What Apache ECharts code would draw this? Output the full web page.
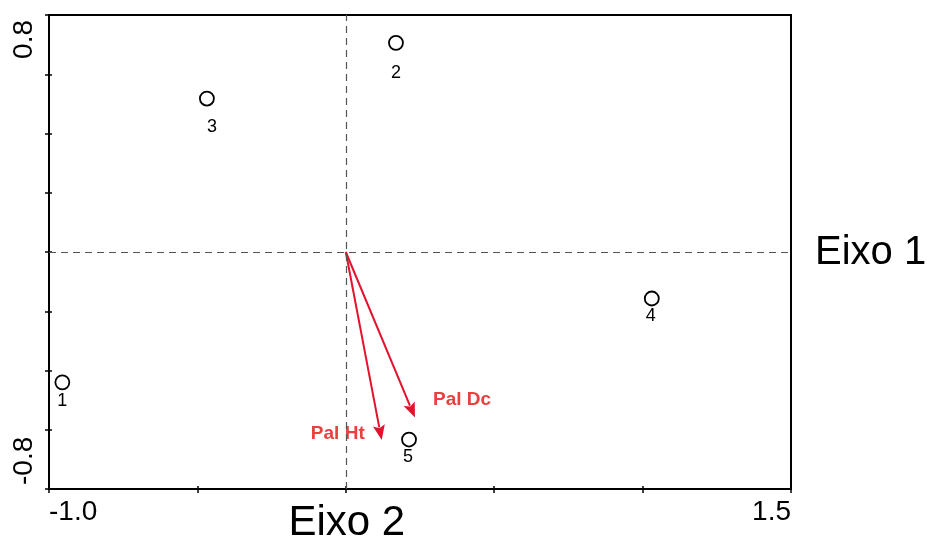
<!DOCTYPE html>
<html>
<head>
<meta charset="utf-8">
<script src="https://cdn.jsdelivr.net/npm/echarts@6/dist/echarts.min.js"></script>
<style>
  html, body { margin: 0; padding: 0; background: #fff; }
  #chart { width: 930px; height: 543px; }
</style>
</head>
<body>
<div id="chart"></div>
<script>
// samples (circles)
const sampleNames = ["1", "2", "3", "4", "5"];
const sampleX = [-0.955, 0.169, -0.468, 1.031, 0.213];
const sampleY = [-0.44, 0.706, 0.518, -0.157, -0.633];

// environmental variables (arrows)
const varNames = ["Pal Ht", "Pal Dc"];
const varX = [0.121, 0.233];
const varY = [-0.635, -0.559];

// axis ranges and shown tick labels
const xRange = [-1.0, 1.5];
const yRange = [-0.8, 0.8];
const xTickLabels = ["-1.0", "1.5"];
const yTickLabels = ["-0.8", "0.8"];
const axisNames = ["Eixo 1", "Eixo 2"];

// label placement (pixels), not data
const sampleLabelOffsets = [[0, 19], [0, 30], [5, 28], [-1, 18], [-1, 18]];
const varLabelStyle = [
  { dx: -17, dy: -6, align: "right" },
  { dx: 18, dy: -18, align: "left" },
];

const FONT = "Liberation Sans, Arial, Helvetica, sans-serif";
const RED = "#e3122d";
const RED_TEXT = "#e8403f";

const chart = echarts.init(document.getElementById("chart"));

const baseAxis = {
  splitLine: { show: false },
  axisLine: { show: true, onZero: false, lineStyle: { color: "#000", width: 2 } },
};

const option = {
  animation: false,
  backgroundColor: "#fff",
  grid: {
    left: 49, right: 139, top: 15, bottom: 54,
    show: true, borderColor: "#000", borderWidth: 2,
  },
  xAxis: [
    {
      ...baseAxis,
      type: "value", min: xRange[0], max: xRange[1], interval: 0.5,
      axisTick: { show: true, inside: false, length: 4, lineStyle: { color: "#000", width: 1.5 } },
      axisLabel: {
        show: true, margin: 9, fontSize: 28, fontFamily: FONT, color: "#000",
        alignMinLabel: "left", alignMaxLabel: "right",
        formatter: (v) => {
          const s = v.toFixed(1);
          return xTickLabels.includes(s) ? s : "";
        },
      },
    },
    {
      ...baseAxis,
      type: "value", min: xRange[0], max: xRange[1], interval: 0.5, position: "bottom",
      axisLine: { show: false, onZero: false },
      axisTick: { show: true, inside: true, length: 3, lineStyle: { color: "#000", width: 1.5 } },
      axisLabel: { show: false },
    },
  ],
  yAxis: [
    {
      ...baseAxis,
      type: "value", min: yRange[0], max: yRange[1], interval: 0.2,
      axisTick: { show: true, inside: false, length: 4, lineStyle: { color: "#000", width: 1.5 } },
      axisLabel: { show: false },
    },
    {
      ...baseAxis,
      type: "value", min: yRange[0], max: yRange[1], interval: 0.2, position: "left",
      axisLine: { show: false, onZero: false },
      axisTick: { show: true, inside: true, length: 3, lineStyle: { color: "#000", width: 1.5 } },
      axisLabel: { show: false },
    },
  ],
  series: [
    {
      type: "scatter",
      xAxisIndex: 0, yAxisIndex: 0,
      symbol: "circle",
      symbolSize: 14,
      itemStyle: { color: "#fff", borderColor: "#000", borderWidth: 1.8, opacity: 1 },
      data: sampleNames.map((n, i) => ({
        name: n,
        value: [sampleX[i], sampleY[i]],
        label: { offset: sampleLabelOffsets[i] },
      })),
      label: {
        show: true, position: "inside", formatter: "{b}",
        fontSize: 18, fontFamily: FONT, color: "#000",
      },
      markLine: {
        silent: true, symbol: "none", animation: false,
        label: { show: false },
        lineStyle: { color: "#555", width: 1.2, type: [7, 5] },
        data: [{ xAxis: 0 }, { yAxis: 0 }],
      },
      z: 3,
    },
    {
      type: "custom",
      xAxisIndex: 0, yAxisIndex: 0,
      data: varNames.map((n, i) => [varX[i], varY[i], i]),
      renderItem: (params, api) => {
        const o = api.coord([0, 0]);
        const t = api.coord([api.value(0), api.value(1)]);
        const idx = api.value(2);
        const dx = t[0] - o[0], dy = t[1] - o[1];
        const len = Math.sqrt(dx * dx + dy * dy);
        const ux = dx / len, uy = dy / len;
        const headLen = 15, headHalf = 6;
        const bx = t[0] - ux * headLen, by = t[1] - uy * headLen;
        const st = varLabelStyle[idx];
        return {
          type: "group",
          children: [
            {
              type: "line",
              shape: { x1: o[0], y1: o[1], x2: bx + ux * 2, y2: by + uy * 2 },
              style: { stroke: RED, lineWidth: 2 },
            },
            {
              type: "polygon",
              shape: {
                points: [
                  [t[0], t[1]],
                  [bx - uy * headHalf, by + ux * headHalf],
                  [bx + ux * 3, by + uy * 3],
                  [bx + uy * headHalf, by - ux * headHalf],
                ],
              },
              style: { fill: RED },
            },
            {
              type: "text",
              x: t[0] + st.dx, y: t[1] + st.dy,
              style: {
                text: varNames[idx], fill: RED_TEXT,
                font: "bold 19px " + FONT,
                align: st.align, verticalAlign: "middle",
              },
            },
          ],
        };
      },
      z: 4,
    },
  ],
};

chart.setOption(option);

// tick labels of the vertical axis (rotated) and the axis titles
const yTop = chart.convertToPixel({ gridIndex: 0 }, [0, yRange[1]]);
const yBot = chart.convertToPixel({ gridIndex: 0 }, [0, yRange[0]]);
const origin = chart.convertToPixel({ gridIndex: 0 }, [0, 0]);
const xRight = chart.convertToPixel({ gridIndex: 0 }, [xRange[1], 0]);

chart.setOption({
  graphic: [
    {
      type: "text", x: 24, y: yTop[1] + 5, rotation: Math.PI / 2,
      style: { text: yTickLabels[1], font: "28px " + FONT, fill: "#000", align: "right", verticalAlign: "middle" },
    },
    {
      type: "text", x: 24, y: yBot[1] - 4, rotation: Math.PI / 2,
      style: { text: yTickLabels[0], font: "28px " + FONT, fill: "#000", align: "left", verticalAlign: "middle" },
    },
    {
      type: "text", x: xRight[0] + 24, y: origin[1] + 1,
      style: { text: axisNames[0], font: "40px " + FONT, fill: "#000", align: "left", verticalAlign: "middle" },
    },
    {
      type: "text", x: origin[0] + 1, y: yBot[1] + 34,
      style: { text: axisNames[1], font: "42px " + FONT, fill: "#000", align: "center", verticalAlign: "middle" },
    },
  ],
});
</script>
</body>
</html>
